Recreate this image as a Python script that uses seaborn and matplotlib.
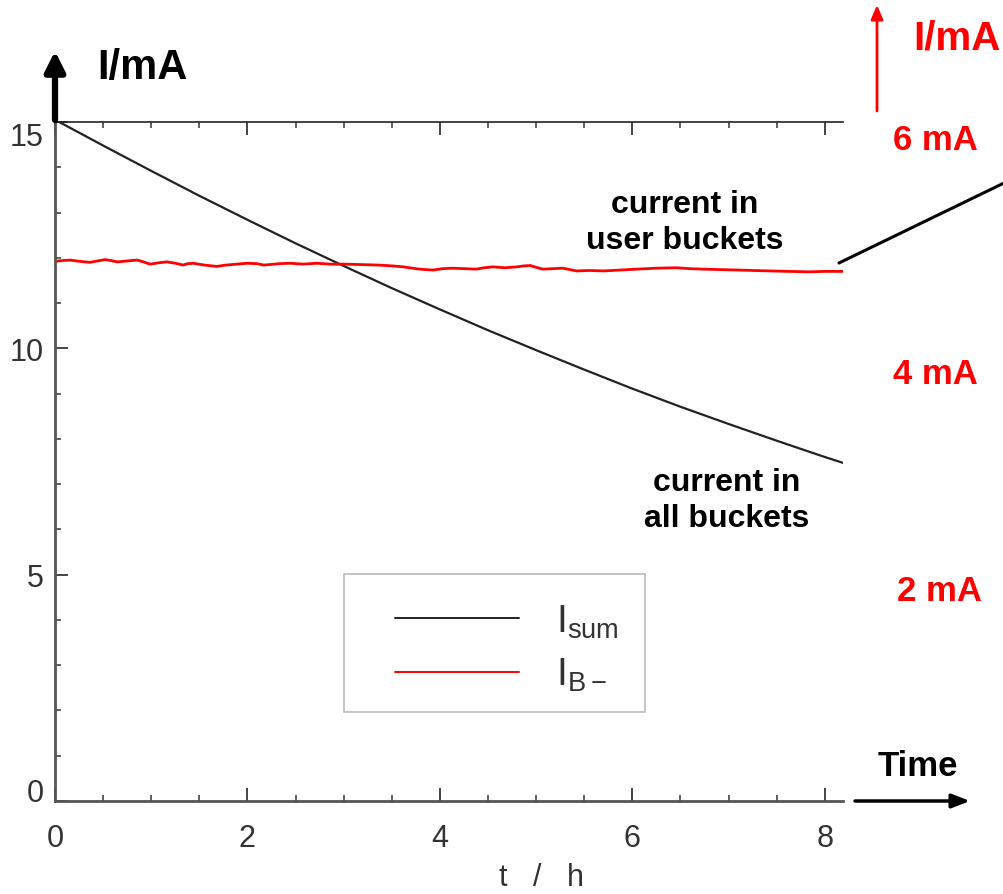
import matplotlib
matplotlib.use("Agg")
import matplotlib.pyplot as plt
from matplotlib.patches import Rectangle
import numpy as np
import pandas as pd
import seaborn as sns

# ---- data ----
t_sum = [0.0, 0.5, 1.0, 1.5, 2.0, 2.5, 3.0, 3.5, 4.0, 4.5, 5.0, 5.5, 6.0, 6.5, 7.0, 7.5, 8.0, 8.19]
i_sum = [15.05, 14.48, 13.92, 13.37, 12.84, 12.32, 11.82, 11.33, 10.86, 10.40, 9.96, 9.53, 9.11, 8.71,
         8.33, 7.96, 7.60, 7.47]

t_b = [0.0, 0.08, 0.156, 0.26, 0.364, 0.44, 0.519, 0.58, 0.644, 0.75, 0.852, 0.92, 0.987, 1.08, 1.163,
       1.25, 1.33, 1.38, 1.434, 1.55, 1.68, 1.78, 1.89, 2.0, 2.1, 2.17, 2.23, 2.33, 2.44, 2.58, 2.72,
       2.86, 3.0, 3.18, 3.35, 3.44, 3.51, 3.62, 3.75, 3.84, 3.93, 4.03, 4.13, 4.25, 4.38, 4.46, 4.55,
       4.68, 4.8, 4.87, 4.94, 5.0, 5.07, 5.18, 5.28, 5.35, 5.42, 5.56, 5.7, 5.88, 6.05, 6.25, 6.46,
       6.6, 6.73, 6.9, 7.09, 7.25, 7.43, 7.62, 7.84, 8.0, 8.19]
i_b = [11.92, 11.94, 11.95, 11.92, 11.90, 11.93, 11.96, 11.94, 11.91, 11.93, 11.95, 11.91, 11.86, 11.89,
       11.91, 11.88, 11.84, 11.87, 11.88, 11.84, 11.81, 11.84, 11.86, 11.88, 11.87, 11.84, 11.85, 11.87,
       11.88, 11.86, 11.88, 11.86, 11.86, 11.85, 11.84, 11.83, 11.82, 11.80, 11.76, 11.74, 11.73, 11.76,
       11.77, 11.76, 11.75, 11.78, 11.80, 11.78, 11.80, 11.82, 11.83, 11.79, 11.75, 11.76, 11.77, 11.74,
       11.71, 11.72, 11.71, 11.73, 11.75, 11.77, 11.78, 11.76, 11.75, 11.74, 11.73, 11.72, 11.71, 11.70,
       11.69, 11.70, 11.70]

label_sum = r"$\mathregular{I_{sum}}$"
label_b = r"$\mathregular{I_{B-}}$"

x_ticks = [0, 2, 4, 6, 8]
y_ticks = [0, 5, 10, 15]

df = pd.concat([
    pd.DataFrame({"t": t_sum, "I": i_sum, "series": label_sum}),
    pd.DataFrame({"t": t_b, "I": i_b, "series": label_b}),
])

sns.set_theme(style="ticks")
plt.rcParams["font.family"] = ["Liberation Sans", "DejaVu Sans"]
plt.rcParams["mathtext.fontset"] = "custom"
plt.rcParams["mathtext.rm"] = "Liberation Sans"

W, H = 1004, 895
fig = plt.figure(figsize=(W / 100, H / 100), dpi=100)
ax = fig.add_axes([55 / W, 1 - 802 / H, (843 - 55) / W, (802 - 123) / H])

sns.lineplot(data=df, x="t", y="I", hue="series", palette={label_sum: "#222222", label_b: "red"},
             ax=ax, linewidth=1.6, sort=False)
for line in ax.get_lines():
    if line.get_color() == "red":
        line.set_linewidth(2.0)

ax.set_xlim(0, 8.19)
ax.set_ylim(0, 15)
ax.set_xticks(x_ticks)
ax.set_yticks(y_ticks)
ax.set_xticks(np.arange(0, 8.2, 0.5), minor=True)
ax.set_yticks(np.arange(0, 15.1, 1), minor=True)
ax.tick_params(axis="both", which="major", direction="in", length=9.5, width=1.4, color="#444444",
               labelsize=22, labelcolor="#333333")
ax.tick_params(axis="both", which="minor", direction="in", length=4.5, width=1.2, color="#444444")
ax.tick_params(axis="x", which="both", top=True, pad=16)
ax.tick_params(axis="y", which="both", right=False, pad=8)

for side in ["left", "bottom"]:
    ax.spines[side].set_color("#555555")
    ax.spines[side].set_linewidth(2)
ax.spines["top"].set_color("#222222")
ax.spines["top"].set_linewidth(1.2)
ax.spines["right"].set_visible(False)

ax.set_ylabel("")
ax.set_xlabel("t   /   h", fontsize=22, color="#333333")
ax.xaxis.set_label_coords(0.618, -0.112)
ax.xaxis.label.set_va("center")

# legend: entries without frame + separate light-grey box
handles, labels = ax.get_legend_handles_labels()
leg = ax.legend(handles, labels, loc="center left", bbox_to_anchor=((395 - 55) / 788, (802 - 649) / 679),
                borderaxespad=0, borderpad=0, fontsize=28, handlelength=3.2, handletextpad=0.95,
                labelspacing=0.42, frameon=False)
for txt in leg.get_texts():
    txt.set_color("#333333")
for h in leg.legend_handles:
    h.set_linewidth(1.4)
ax.add_patch(Rectangle(((344 - 55) / 788, (802 - 713) / 679), (645 - 344) / 788, (713 - 575) / 679,
                       transform=ax.transAxes, fill=False, edgecolor="#bbbbbb", linewidth=1.2, zorder=4))

fig.canvas.draw()
for lab in ax.get_yticklabels():
    txt = lab.get_text()
    if txt == "15":
        lab.set_va("top")
    elif txt == "0":
        lab.set_va("baseline")

def fx(x):
    return x / W

def fy(y):
    return 1 - y / H

# annotations
fig.text(fx(142), fy(68), "I/mA", fontsize=30, fontweight="bold", color="black", ha="center", va="center")
fig.text(fx(957), fy(38), "I/mA", fontsize=29, fontweight="bold", color="red", ha="center", va="center")
fig.text(fx(935), fy(140), "6 mA", fontsize=25, fontweight="bold", color="red", ha="center", va="center")
fig.text(fx(935), fy(375), "4 mA", fontsize=25, fontweight="bold", color="red", ha="center", va="center")
fig.text(fx(940), fy(592), "2 mA", fontsize=25, fontweight="bold", color="red", ha="center", va="center")
fig.text(fx(918), fy(767), "Time", fontsize=25, fontweight="bold", color="black", ha="center", va="center")
fig.text(fx(685), fy(223), "current in\nuser buckets", fontsize=23, fontweight="bold", color="black",
         ha="center", va="center", linespacing=1.25)
fig.text(fx(727), fy(501), "current in\nall buckets", fontsize=23, fontweight="bold", color="black",
         ha="center", va="center", linespacing=1.25)

arrow_kw = dict(xycoords="figure pixels", textcoords="figure pixels", annotation_clip=False)
ax.annotate("", xy=(55, H - 52), xytext=(55, H - 121),
            arrowprops=dict(arrowstyle="-|>,head_width=0.5,head_length=1.0", color="black", lw=4.5,
                            shrinkA=0, shrinkB=0), **arrow_kw)
ax.annotate("", xy=(877, H - 6), xytext=(877, H - 112),
            arrowprops=dict(arrowstyle="-|>,head_width=0.3,head_length=0.7", color="red", lw=2,
                            shrinkA=0, shrinkB=0), **arrow_kw)
ax.annotate("", xy=(970, H - 802), xytext=(855, H - 802),
            arrowprops=dict(arrowstyle="-|>,head_width=0.35,head_length=0.9", color="black", lw=2.5,
                            shrinkA=0, shrinkB=0), **arrow_kw)
ax.annotate("", xy=(1004, H - 184), xytext=(839, H - 264),
            arrowprops=dict(arrowstyle="-", color="black", lw=2.2, shrinkA=0, shrinkB=0), **arrow_kw)

fig.savefig("out.png", dpi=100)
